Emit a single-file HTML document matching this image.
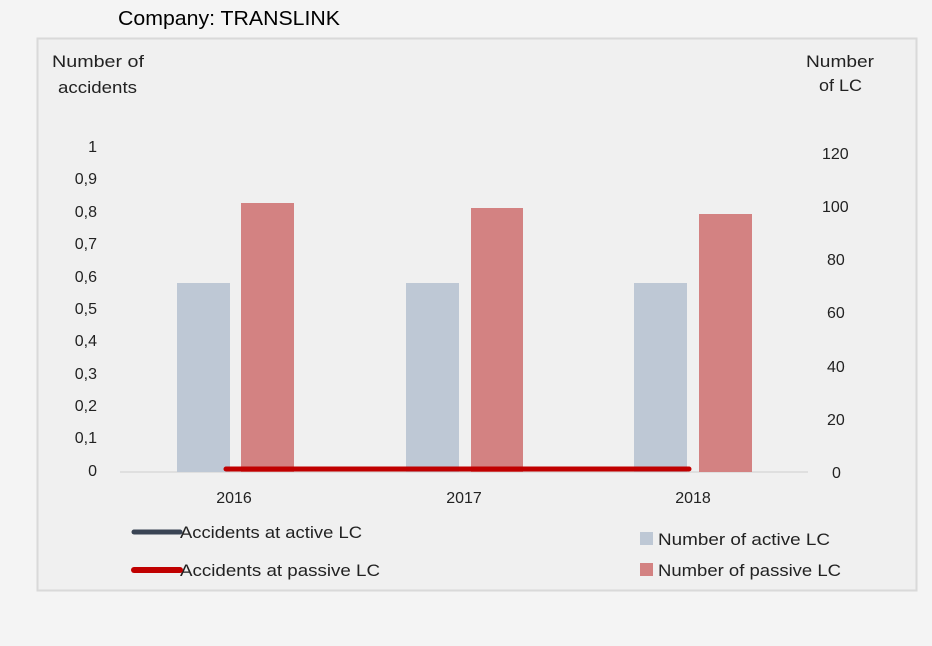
<!DOCTYPE html>
<html><head><style>
body{margin:0;background:#f4f4f4;}
svg{display:block;font-family:"Liberation Sans",sans-serif;}
</style></head><body>
<svg width="932" height="646" xmlns="http://www.w3.org/2000/svg">
<rect width="932" height="646" fill="#f4f4f4"/>
<rect x="37.5" y="38.5" width="879" height="552" fill="#f0f0f0" stroke="#d9d9d9" stroke-width="2"/>
<text x="118" y="25" font-size="20" fill="#000" textLength="222" lengthAdjust="spacingAndGlyphs">Company: TRANSLINK</text>
<g font-size="17" fill="#222">
<text x="52" y="67" textLength="92" lengthAdjust="spacingAndGlyphs">Number of</text>
<text x="58" y="93" textLength="79" lengthAdjust="spacingAndGlyphs">accidents</text>
<text x="806" y="67" textLength="68" lengthAdjust="spacingAndGlyphs">Number</text>
<text x="819" y="91" textLength="43" lengthAdjust="spacingAndGlyphs">of LC</text>
<g text-anchor="end" font-size="16">
<text x="97" y="152">1</text>
<text x="97" y="184">0,9</text>
<text x="97" y="217">0,8</text>
<text x="97" y="249">0,7</text>
<text x="97" y="282">0,6</text>
<text x="97" y="314">0,5</text>
<text x="97" y="346">0,4</text>
<text x="97" y="379">0,3</text>
<text x="97" y="411">0,2</text>
<text x="97" y="443">0,1</text>
<text x="97" y="476">0</text>
</g>
<g text-anchor="start" font-size="16">
<text x="822" y="159">120</text>
<text x="822" y="212">100</text>
<text x="827" y="265">80</text>
<text x="827" y="318">60</text>
<text x="827" y="372">40</text>
<text x="827" y="425">20</text>
<text x="832" y="478">0</text>
</g>
<g font-size="16">
<text x="234" y="503" text-anchor="middle">2016</text>
<text x="464" y="503" text-anchor="middle">2017</text>
<text x="693" y="503" text-anchor="middle">2018</text>
</g>
<text x="180" y="538" textLength="182" lengthAdjust="spacingAndGlyphs">Accidents at active LC</text>
<text x="180" y="576" textLength="200" lengthAdjust="spacingAndGlyphs">Accidents at passive LC</text>
<text x="658" y="545" textLength="172" lengthAdjust="spacingAndGlyphs">Number of active LC</text>
<text x="658" y="576" textLength="183" lengthAdjust="spacingAndGlyphs">Number of passive LC</text>
</g>
<line x1="120" y1="472" x2="808" y2="472" stroke="#d9d9d9" stroke-width="1.5"/>
<g fill="#bec8d5">
<rect x="177" y="283" width="53" height="189"/>
<rect x="406" y="283" width="53" height="189"/>
<rect x="634" y="283" width="53" height="189"/>
</g>
<g fill="#d38282">
<rect x="241" y="203" width="53" height="269"/>
<rect x="471" y="208" width="52" height="264"/>
<rect x="699" y="214" width="53" height="258"/>
</g>
<line x1="226" y1="469" x2="689" y2="469" stroke="#c00000" stroke-width="5" stroke-linecap="round"/>
<line x1="134" y1="532" x2="180" y2="532" stroke="#3a4454" stroke-width="5" stroke-linecap="round"/>
<line x1="134" y1="570" x2="180" y2="570" stroke="#c00000" stroke-width="6" stroke-linecap="round"/>
<rect x="640" y="532" width="13" height="13" fill="#bec8d5"/>
<rect x="640" y="563" width="13" height="13" fill="#d38282"/>
</svg>
</body></html>
